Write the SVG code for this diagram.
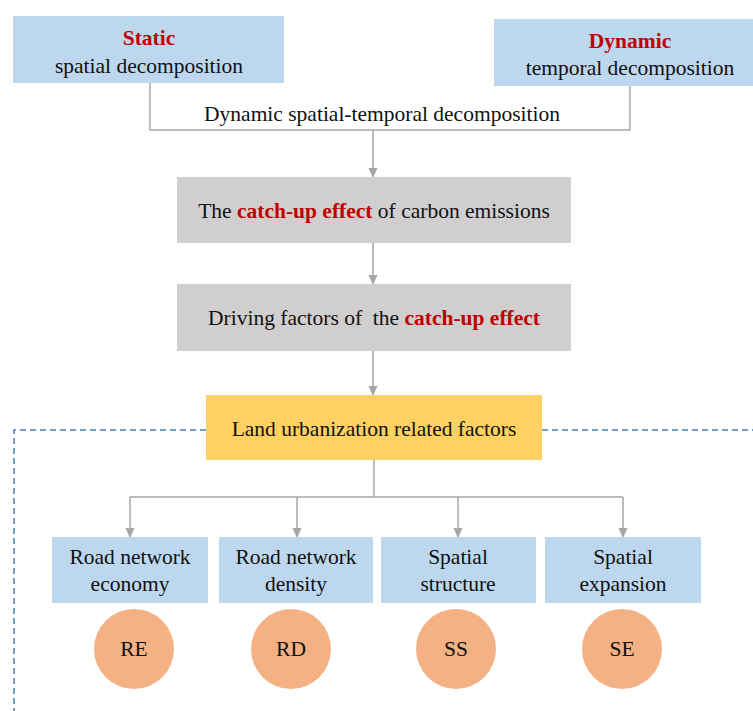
<svg xmlns="http://www.w3.org/2000/svg" width="753" height="711" viewBox="0 0 753 711" font-family="'Liberation Serif', 'DejaVu Serif', serif">
<style>
text{font-family:'Liberation Serif','DejaVu Serif',serif;font-size:21.5px;fill:#111;text-anchor:middle}
.red{fill:#C00000;font-weight:bold}
.blue{fill:#BDD7EE}
.gray{fill:#D0CECE}
.yellow{fill:#FFD163}
.circ{fill:#F4B183}
.con{fill:none;stroke:#A6A6A6;stroke-width:1.5}
.dash{fill:none;stroke:#3F7FC1;stroke-width:1.5;stroke-dasharray:6 4}
</style>
<defs>
<marker id="ar" markerWidth="10" markerHeight="10" refX="9" refY="5" orient="auto" markerUnits="userSpaceOnUse" viewBox="0 0 10 10">
<path d="M0,0.5 L10,5 L0,9.5 Z" fill="#A6A6A6"/>
</marker>
</defs>
<g id="connectors">
<path class="con" d="M150,83 V130 H630 V86"/>
<path class="con" d="M373,130 V177" marker-end="url(#ar)"/>
<path class="con" d="M373,243 V284" marker-end="url(#ar)"/>
<path class="con" d="M373,351 V395" marker-end="url(#ar)"/>
<path class="con" d="M374,460 V497"/>
<path class="con" d="M130,497 H623"/>
<path class="con" d="M130,497 V537" marker-end="url(#ar)"/>
<path class="con" d="M297,497 V537" marker-end="url(#ar)"/>
<path class="con" d="M458,497 V537" marker-end="url(#ar)"/>
<path class="con" d="M623,497 V537" marker-end="url(#ar)"/>
<path class="dash" d="M206,430 H14 V711"/>
<path class="dash" d="M542,430 H753"/>
<text x="382" y="121">Dynamic spatial-temporal decomposition</text>
</g>
<g id="static">
<rect class="blue" x="13" y="16" width="271" height="67"/>
<text class="red" x="149" y="45">Static</text>
<text x="149" y="73">spatial decomposition</text>
</g>
<g id="dynamic">
<rect class="blue" x="494" y="19" width="259" height="67"/>
<text class="red" x="630" y="48">Dynamic</text>
<text x="630" y="75">temporal decomposition</text>
</g>
<g id="catchup">
<rect class="gray" x="177" y="177" width="394" height="66"/>
<text x="374" y="218">The <tspan class="red">catch-up effect</tspan> of carbon emissions</text>
</g>
<g id="driving">
<rect class="gray" x="177" y="284" width="394" height="67"/>
<text x="374" y="325" xml:space="preserve">Driving factors of  the <tspan class="red">catch-up effect</tspan></text>
</g>
<g id="land">
<rect class="yellow" x="206" y="395" width="336" height="65"/>
<text x="374" y="436">Land urbanization related factors</text>
</g>
<g id="re-box">
<rect class="blue" x="52" y="537" width="156" height="66"/>
<text x="130" y="564">Road network</text>
<text x="130" y="591">economy</text>
</g>
<g id="rd-box">
<rect class="blue" x="219" y="537" width="154" height="66"/>
<text x="296" y="564">Road network</text>
<text x="296" y="591">density</text>
</g>
<g id="ss-box">
<rect class="blue" x="381" y="537" width="155" height="66"/>
<text x="458" y="564">Spatial</text>
<text x="458" y="591">structure</text>
</g>
<g id="se-box">
<rect class="blue" x="545" y="537" width="156" height="66"/>
<text x="623" y="564">Spatial</text>
<text x="623" y="591">expansion</text>
</g>
<g id="re"><circle class="circ" cx="134" cy="649" r="40"/><text x="134" y="656">RE</text></g>
<g id="rd"><circle class="circ" cx="291" cy="649" r="40"/><text x="291" y="656">RD</text></g>
<g id="ss"><circle class="circ" cx="456" cy="649" r="40"/><text x="456" y="656">SS</text></g>
<g id="se"><circle class="circ" cx="622" cy="649" r="40"/><text x="622" y="656">SE</text></g>
</svg>
